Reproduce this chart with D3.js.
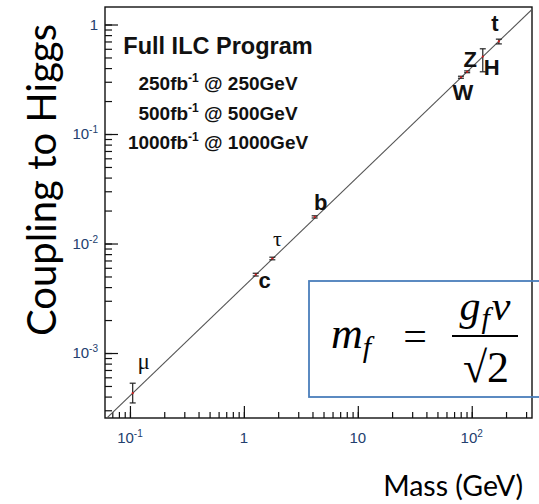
<!DOCTYPE html>
<html><head><meta charset="utf-8">
<script src="https://cdn.jsdelivr.net/npm/d3@7/dist/d3.min.js"></script>
<style>
html,body{margin:0;padding:0;background:#fff;}
svg{display:block;}
</style>
</head><body>
<svg id="chart" width="539" height="504"></svg>
<script>
// ---- data ----
const particles = ["μ", "c", "τ", "b", "W", "Z", "H", "t"];
const masses = [0.1057, 1.27, 1.777, 4.18, 80.4, 91.19, 125, 173];
const couplings = [4.3e-4, 5.2e-3, 7.3e-3, 0.0175, 0.33, 0.37, 0.51, 0.70];
const errLow = [3.5e-4, 5.05e-3, 7.1e-3, 0.0171, 0.323, 0.363, 0.37, 0.665];
const errHigh = [5.3e-4, 5.35e-3, 7.5e-3, 0.0179, 0.337, 0.377, 0.60, 0.735];
const vev = 246;
const xTickValues = [0.1, 1, 10, 100];
const xTickLabels = [["10", "-1"], ["1", ""], ["10", ""], ["10", "2"]];
const yTickValues = [1e-3, 1e-2, 1e-1, 1];
const yTickLabels = [["10", "-3"], ["10", "-2"], ["10", "-1"], ["1", ""]];
const titleLines = ["250fb", "500fb", "1000fb"];
const titleEnergies = ["250GeV", "500GeV", "1000GeV"];

// ---- drawing ----
const svg = d3.select("#chart");
const L = 105, R = 532, T = 7, B = 418;
const x = d3.scaleLog().domain([0.0604, 338]).range([L, R]);
const y = d3.scaleLog().domain([2.55e-4, 1.445]).range([B, T]);

const tickFont = "Liberation Sans, Arial, sans-serif";
const tickColor = "#23406e";

function minors(domain) {
  const out = [];
  for (let e = -5; e <= 3; e++) {
    for (let k = 1; k <= 9; k++) {
      const v = k * Math.pow(10, e);
      if (v >= domain[0] && v <= domain[1]) out.push(v);
    }
  }
  return out;
}

// y axis ticks (inward)
const yMinor = svg.append("g").attr("transform", `translate(${L},0)`)
  .call(d3.axisLeft(y).tickValues(minors(y.domain())).tickSize(-7).tickFormat(""));
const yMajor = svg.append("g").attr("transform", `translate(${L},0)`)
  .call(d3.axisLeft(y).tickValues(yTickValues).tickSize(-13).tickFormat(""));
// x axis ticks (inward)
const xMinor = svg.append("g").attr("transform", `translate(0,${B})`)
  .call(d3.axisBottom(x).tickValues(minors(x.domain())).tickSize(-6).tickFormat(""));
const xMajor = svg.append("g").attr("transform", `translate(0,${B})`)
  .call(d3.axisBottom(x).tickValues(xTickValues).tickSize(-12).tickFormat(""));
[yMinor, yMajor, xMinor, xMajor].forEach(g => {
  g.select(".domain").remove();
  g.selectAll(".tick line").attr("stroke", "#111").attr("stroke-width", 1.2);
});

// frame
svg.append("rect").attr("x", L).attr("y", T).attr("width", R - L).attr("height", B - T)
  .attr("fill", "none").attr("stroke", "#111").attr("stroke-width", 1.4);

// tick labels
yTickValues.forEach((v, i) => {
  const t = svg.append("text").attr("x", 98).attr("y", y(v) + 5)
    .attr("text-anchor", "end").attr("font-family", tickFont).attr("font-size", 15)
    .attr("fill", tickColor);
  t.append("tspan").text(yTickLabels[i][0]);
  if (yTickLabels[i][1]) t.append("tspan").attr("dy", -6).attr("font-size", 10).text(yTickLabels[i][1]);
});
xTickValues.forEach((v, i) => {
  const t = svg.append("text").attr("x", x(v)).attr("y", 443)
    .attr("text-anchor", "middle").attr("font-family", tickFont).attr("font-size", 15)
    .attr("fill", tickColor);
  t.append("tspan").text(xTickLabels[i][0]);
  if (xTickLabels[i][1]) t.append("tspan").attr("dy", -6).attr("font-size", 10).text(xTickLabels[i][1]);
});

// diagonal line g = m / v
const lineData = [x.domain()[0], 338];
svg.append("defs").append("clipPath").attr("id", "clip")
  .append("rect").attr("x", L).attr("y", T).attr("width", R - L).attr("height", B - T);
svg.append("line").attr("clip-path", "url(#clip)")
  .attr("x1", x(lineData[0])).attr("y1", y(lineData[0] / vev))
  .attr("x2", x(lineData[1])).attr("y2", y(lineData[1] / vev))
  .attr("stroke", "#555").attr("stroke-width", 1.1);

// error bars and points
const pts = svg.append("g");
masses.forEach((m, i) => {
  const cx = x(m);
  pts.append("line").attr("x1", cx).attr("x2", cx).attr("y1", y(errLow[i])).attr("y2", y(errHigh[i]))
    .attr("stroke", "#222").attr("stroke-width", 1.2);
  [errLow[i], errHigh[i]].forEach(e => {
    pts.append("line").attr("x1", cx - 3).attr("x2", cx + 3).attr("y1", y(e)).attr("y2", y(e))
      .attr("stroke", "#222").attr("stroke-width", 1.2);
  });
  pts.append("circle").attr("cx", cx).attr("cy", y(couplings[i])).attr("r", 1.1).attr("fill", "#d42020");
});

// particle labels (offsets from the point)
const labelStyle = {
  "μ": {dx: 11, dy: -24, bold: false, serif: true, size: 23},
  "c": {dx: 9, dy: 13, bold: true, size: 22},
  "τ": {dx: 5, dy: -12, bold: false, serif: true, size: 22},
  "b": {dx: 6, dy: -7, bold: true, size: 22},
  "W": {dx: 2, dy: 23, bold: true, size: 22},
  "Z": {dx: 3, dy: -5, bold: true, size: 22},
  "H": {dx: 9, dy: 18, bold: true, size: 22},
  "t": {dx: -4, dy: -10, bold: true, size: 22}
};
particles.forEach((p, i) => {
  const s = labelStyle[p];
  svg.append("text").attr("x", x(masses[i]) + s.dx).attr("y", y(couplings[i]) + s.dy)
    .attr("text-anchor", "middle")
    .attr("font-family", s.serif ? "Liberation Serif, serif" : "Liberation Sans, Arial, sans-serif")
    .attr("font-weight", s.bold ? "bold" : "normal").attr("font-size", s.size)
    .attr("fill", "#111").text(p);
});

// title block
svg.append("text").attr("x", 218).attr("y", 54).attr("text-anchor", "middle")
  .attr("font-family", "Liberation Sans, Arial, sans-serif").attr("font-weight", "bold")
  .attr("font-size", 23.5).attr("fill", "#111").text("Full ILC Program");
titleLines.forEach((l, i) => {
  const t = svg.append("text").attr("x", 218).attr("y", 90 + i * 29.5).attr("text-anchor", "middle")
    .attr("font-family", "Liberation Sans, Arial, sans-serif").attr("font-weight", "bold")
    .attr("font-size", 19).attr("fill", "#111");
  t.append("tspan").text(l);
  t.append("tspan").attr("dy", -8).attr("font-size", 12).text("-1");
  t.append("tspan").attr("dy", 8).text(" @ " + titleEnergies[i]);
});

// axis titles
svg.append("text").attr("transform", "translate(56,180) rotate(-90)").attr("text-anchor", "middle")
  .attr("font-family", "Lato, Carlito, sans-serif").attr("font-size", 40).attr("fill", "#000")
  .text("Coupling to Higgs");
svg.append("text").attr("x", 523).attr("y", 496).attr("text-anchor", "end")
  .attr("font-family", "Lato, Carlito, sans-serif").attr("font-size", 28.5).attr("fill", "#000")
  .text("Mass (GeV)");

// formula box
svg.append("rect").attr("x", 309).attr("y", 281).attr("width", 240).attr("height", 116)
  .attr("fill", "none").attr("stroke", "#4a7ebb").attr("stroke-width", 1.8);
const ff = "Liberation Serif, DejaVu Serif, serif";
const lhs = svg.append("text").attr("x", 331).attr("y", 348).attr("font-family", ff)
  .attr("font-size", 44).attr("fill", "#000");
lhs.append("tspan").attr("font-style", "italic").text("m");
lhs.append("tspan").attr("font-style", "italic").attr("font-size", 30).attr("dy", 9).text("f");
svg.append("text").attr("x", 415).attr("y", 350).attr("text-anchor", "middle").attr("font-family", ff)
  .attr("font-size", 42).attr("fill", "#000").text("=");
const num = svg.append("text").attr("x", 485).attr("y", 320).attr("text-anchor", "middle")
  .attr("font-family", ff).attr("font-size", 42).attr("fill", "#000");
num.append("tspan").attr("font-style", "italic").text("g");
num.append("tspan").attr("font-style", "italic").attr("font-size", 30).attr("dy", 8).attr("dx", 1).text("f");
num.append("tspan").attr("font-style", "italic").attr("dy", -8).attr("dx", 2).text("v");
svg.append("line").attr("x1", 452).attr("x2", 518).attr("y1", 336).attr("y2", 336)
  .attr("stroke", "#000").attr("stroke-width", 2);
svg.append("text").attr("x", 486).attr("y", 382).attr("text-anchor", "middle").attr("font-family", ff)
  .attr("font-size", 44).attr("fill", "#000").text("√2");
</script>
</body></html>
